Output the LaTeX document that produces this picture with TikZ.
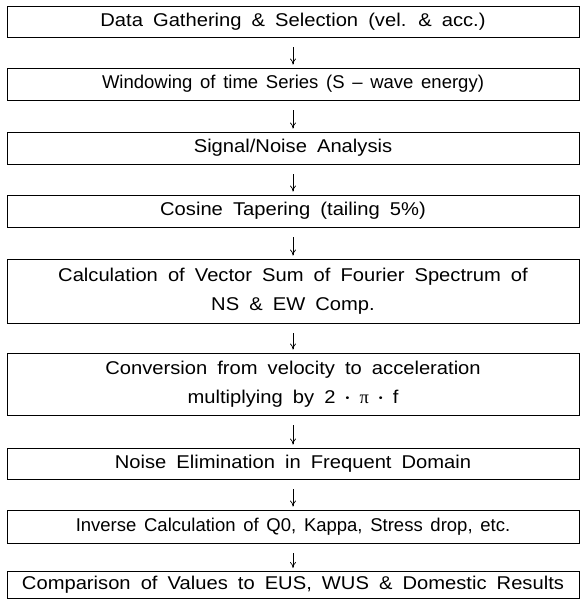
\documentclass[tikz,border=0pt]{standalone}
\usepackage{fontspec}
\setmainfont{Liberation Sans}[FakeStretch=1.09, WordSpace=1.8]
\newfontfamily\tightfont{Liberation Sans}[Ligatures=TeX, FakeStretch=1.0, WordSpace=1.5]
\newfontfamily\pifont{Liberation Serif}
\usetikzlibrary{arrows.meta}
\newcommand{\mdot}{\raisebox{1.8pt}{\fontsize{10}{10}\selectfont\textbullet}}

\begin{document}
\begin{tikzpicture}[x=1pt, y=1pt,
  procbox/.style={draw, line width=0.9pt, minimum width=572pt, inner sep=0pt,
    align=center, font=\fontsize{18.5}{29}\selectfont},
  tightbox/.style={procbox, font=\tightfont\fontsize{18.5}{29}\selectfont},
  flow/.style={-{To[length=6pt,width=6pt]}, line width=0.7pt,
    shorten <=10pt, shorten >=3pt}]
\useasboundingbox (0,0) rectangle (581,-608);
\node[procbox, minimum height=31pt] (gather) at (293,-21.5) {Data Gathering \& Selection (vel. \& acc.)};
\node[tightbox, minimum height=32pt] (window) at (293,-84) {Windowing of time Series (S -- wave energy)};
\node[procbox, minimum height=32pt] (snr) at (293,-148) {Signal/Noise Analysis};
\node[procbox, minimum height=32pt] (taper) at (293,-211) {Cosine Tapering (tailing 5\%)};
\node[procbox, minimum height=64pt] (vecsum) at (293,-291) {Calculation of Vector Sum of Fourier Spectrum of\\NS \& EW Comp.};
\node[procbox, minimum height=62pt] (convert) at (293,-384) {Conversion from velocity to acceleration\\multiplying by 2 \mdot\ {\pifont π} \mdot\ f};
\node[procbox, minimum height=31pt] (denoise) at (293,-463.5) {Noise Elimination in Frequent Domain};
\node[tightbox, minimum height=33pt] (invert) at (293,-526.5) {Inverse Calculation of Q0, Kappa, Stress drop, etc.};
\node[procbox, minimum height=27pt] (compare) at (293,-585) {Comparison of Values to EUS, WUS \& Domestic Results};
% arrows between the steps
\draw[flow] (gather) -- (window);
\draw[flow] (window) -- (snr);
\draw[flow] (snr) -- (taper);
\draw[flow] (taper) -- (vecsum);
\draw[flow] (vecsum) -- (convert);
\draw[flow] (convert) -- (denoise);
\draw[flow] (denoise) -- (invert);
\draw[flow] (invert) -- (compare);
\end{tikzpicture}
\end{document}
